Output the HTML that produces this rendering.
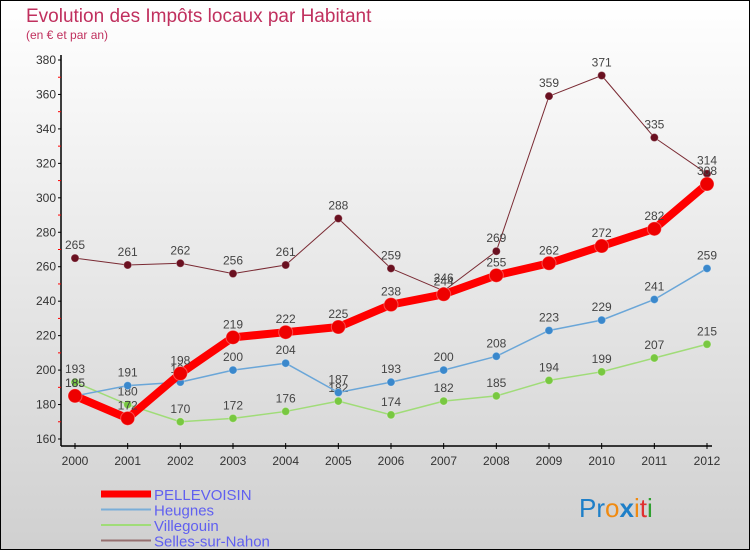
<!DOCTYPE html>
<html><head><meta charset="utf-8"><style>
body{margin:0}
#c{width:750px;height:550px;position:relative;box-sizing:border-box;border:1px solid #000;background:linear-gradient(#fff,#d0d0d0);font-family:"Liberation Sans",sans-serif;overflow:hidden}
</style></head><body>
<div id="c">
<svg id="s" width="750" height="550" style="position:absolute;left:-1px;top:-1px">
<text x="26" y="22" font-size="19" fill="#c0305e">Evolution des Impôts locaux par Habitant</text>
<text x="26" y="39" font-size="12" fill="#c0305e">(en € et par an)</text>
<text x="579" y="517" font-size="26"><tspan fill="#1e7fc8">Pr</tspan><tspan fill="#f08a10">o</tspan><tspan fill="#1e7fc8" font-weight="bold">x</tspan><tspan fill="#f08a10">i</tspan><tspan fill="#e03030">t</tspan><tspan fill="#30a030">i</tspan></text>
</svg>
</div>
<script>
const years=[2000,2001,2002,2003,2004,2005,2006,2007,2008,2009,2010,2011,2012];
const yTicks=[160,180,200,220,240,260,280,300,320,340,360,380];
const pellevoisin=[185,172,198,219,222,225,238,244,255,262,272,282,308];
const heugnes=[185,191,193,200,204,187,193,200,208,223,229,241,259];
const villegouin=[193,180,170,172,176,182,174,182,185,194,199,207,215];
const selles=[265,261,262,256,261,288,259,246,269,359,371,335,314];
const names=["PELLEVOISIN","Heugnes","Villegouin","Selles-sur-Nahon"];
const ns="http://www.w3.org/2000/svg",s=document.getElementById('s');
const X=i=>75+i*(707-75)/(years.length-1);
const Y=v=>439-(v-160)*(439-60)/220;
function el(t,a,p){const e=document.createElementNS(ns,t);for(const k in a)e.setAttribute(k,a[k]);(p||s).appendChild(e);return e;}
// axes
let ax=el('line',{x1:61,y1:55,x2:61,y2:446,stroke:'#000','stroke-width':1.5});


let bx=el('line',{x1:61,y1:446,x2:712,y2:446,stroke:'#000','stroke-width':1.5});


yTicks.forEach((v,i)=>{
 el('line',{x1:58,x2:61,y1:Y(v),y2:Y(v),stroke:'#000'});
 if(i<yTicks.length-1) el('line',{x1:58,x2:61,y1:Y(v+10),y2:Y(v+10),stroke:'#f00'});
 const t=el('text',{x:56,y:Y(v)+4,'text-anchor':'end','font-size':12,fill:'#333'});t.textContent=v;
 
 
});
years.forEach((y,i)=>{
 el('line',{x1:X(i),x2:X(i),y1:443,y2:449,stroke:'#000'});
 const t=el('text',{x:X(i),y:465,'text-anchor':'middle','font-size':12,fill:'#333'});t.textContent=y;
 
 
});
const series=[[selles,'#7a2a33','#6a1020',1,4],[villegouin,'#a0dc78','#78c840',1.5,4],[heugnes,'#6aa6d8','#3a88cc',1.5,4],[pellevoisin,'#f00','#e00',8,7]];
series.forEach(([d,lc,pc,w,r],si)=>{
 const p=el('polyline',{points:d.map((v,i)=>X(i)+','+Y(v)).join(' '),fill:'none',stroke:lc,'stroke-width':w,'stroke-linejoin':'round'});
 
 
 d.forEach((v,i)=>{
  const c=el('circle',{cx:X(i),cy:Y(v),r:r,fill:pc,stroke:'#fff','stroke-opacity':0.3});
  
  
  const t=el('text',{x:X(i),y:Y(v)-9,'text-anchor':'middle','font-size':12,fill:'#444'});t.textContent=v;
  
  
 });
});
const lc=['#f00','#7aaed8','#a0dc78','#967070'],lw=[7,2,2,2];
names.forEach((n,i)=>{
 const yy=494+i*15.5;
 const l=el('line',{x1:101,x2:151,y1:yy,y2:yy,stroke:lc[i],'stroke-width':lw[i]});
 
 
 const t=el('text',{x:154,y:yy+6,'font-size':15,fill:'#6060f0'});t.textContent=n;
 
 
});
</script>
</body></html>
